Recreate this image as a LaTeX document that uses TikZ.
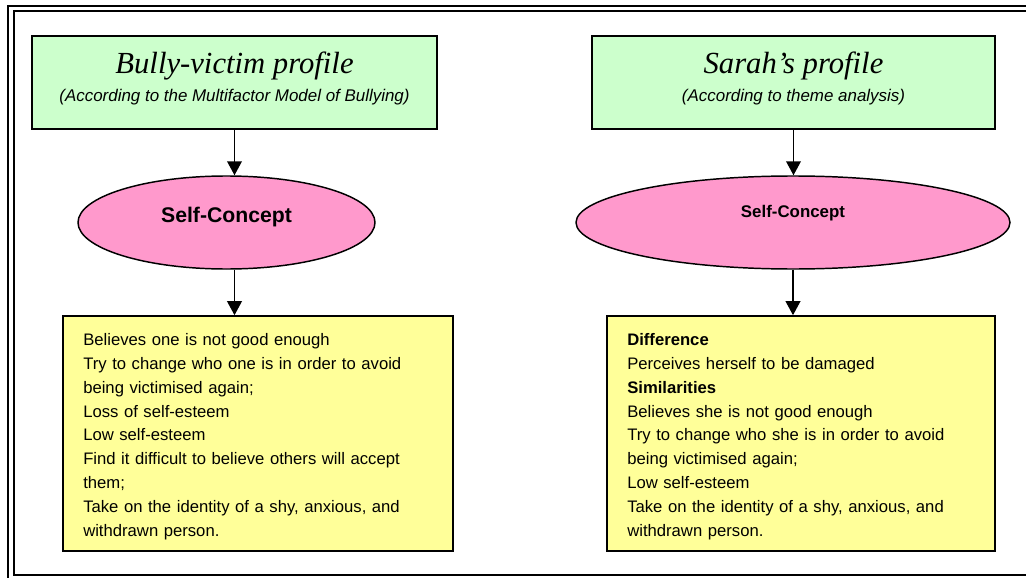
\documentclass[tikz,border=0pt]{standalone}
\usepackage{fontspec}
\setmainfont{Liberation Serif}
\newfontfamily\arialf{Liberation Sans}
\usetikzlibrary{shapes.geometric,arrows.meta}
\definecolor{boxgreen}{HTML}{CCFFCC}
\definecolor{ovalpink}{HTML}{FF99CC}
\definecolor{noteyellow}{HTML}{FFFF99}
\tikzset{
  headbox/.style={draw=black, line width=1.2pt, fill=boxgreen, rectangle,
    minimum height=69.75pt, inner sep=0pt},
  oval/.style={draw=black, line width=1.1pt, fill=ovalpink, ellipse,
    minimum height=69.75pt, inner sep=0pt},
  notebox/.style={draw=black, line width=1.2pt, fill=noteyellow, rectangle,
    minimum height=176.25pt, inner sep=0pt},
  headtitle/.style={anchor=base, inner sep=0pt, font=\itshape\fontsize{23}{26}\selectfont},
  headsub/.style={anchor=base, inner sep=0pt, font=\arialf\itshape\fontsize{12.7}{15}\selectfont},
  notetext/.style={anchor=base west, inner sep=0pt, align=left, text width=280pt,
    font=\arialf\fontsize{12.5}{17.85}\selectfont},
  flow/.style={line width=1.2pt, -{Triangle[width=11pt,length=10.5pt]}},
  frameline/.style={line width=1.6pt}
}
\begin{document}
\begin{tikzpicture}[x=0.75pt,y=-0.75pt]
  \useasboundingbox (0,0) rectangle (1026,578);
  \clip (0,0) rectangle (1026,578);

  % double page frame
  \draw[frameline] (8,6) rectangle (1040,590);
  \draw[frameline] (14,11) rectangle (1034,575);

  % left column: bully-victim profile
  \node[headbox, minimum width=303.75pt] (gl) at (234.5,82.5) {};
  \node[headtitle] (tl) at (234.5,74) {Bully-victim profile};
  \node[headsub] (sl) at (234.5,101.7) {(According to the Multifactor Model of Bullying)};
  \node[oval, minimum width=222.75pt] (el) at (226.5,222.5) {};
  \node[anchor=base, inner sep=0pt, font=\arialf\bfseries\fontsize{15.9}{18}\selectfont] (cl) at (226.5,222) {Self-Concept};
  \node[notebox, minimum width=292.5pt] (yl) at (258,433.5) {};
  \node[notetext] (nl) at (83,345.7) {Believes one is not good enough\\
    Try to change who one is in order to avoid\\
    being victimised again;\\
    Loss of self-esteem\\
    Low self-esteem\\
    Find it difficult to believe others will accept\\
    them;\\
    Take on the identity of a shy, anxious, and\\
    withdrawn person.};

  % right column: Sarah's profile
  \node[headbox, minimum width=302.25pt] (gr) at (793.5,82.5) {};
  \node[headtitle] (tr) at (793.5,74) {Sarah’s profile};
  \node[headsub] (sr) at (793.5,101.7) {(According to theme analysis)};
  \node[oval, minimum width=325.5pt] (er) at (793,222.5) {};
  \node[anchor=base, inner sep=0pt, font=\arialf\bfseries\fontsize{12.65}{15}\selectfont] (cr) at (793,217) {Self-Concept};
  \node[notebox, minimum width=291pt] (yr) at (801,433.5) {};
  \node[notetext] (nr) at (627,345.7) {\textbf{Difference}\\
    Perceives herself to be damaged\\
    \textbf{Similarities}\\
    Believes she is not good enough\\
    Try to change who she is in order to avoid\\
    being victimised again;\\
    Low self-esteem\\
    Take on the identity of a shy, anxious, and\\
    withdrawn person.};

  % connectors
  \draw[flow] (gl.south) -- (gl.south |- el.north);
  \draw[flow] (gl.south |- el.south) -- (gl.south |- yl.north);
  \draw[flow] (gr.south) -- (gr.south |- er.north);
  \draw[flow] (er.south) -- (er.south |- yr.north);
\end{tikzpicture}
\end{document}
